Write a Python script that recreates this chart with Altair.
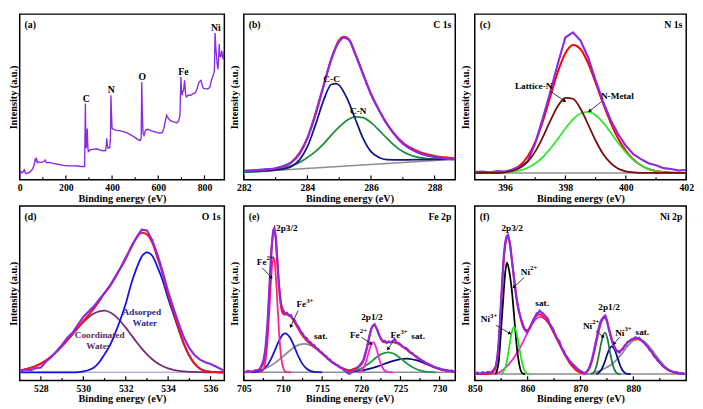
import math
import altair as alt
import pandas as pd

FONT = "Liberation Serif"
PURPLE = "#8A2BE2"
RED = "#FF1010"

# ---------------- (a) survey ----------------
A_DOM = [0, 886]
A_MAJOR = [0, 200, 400, 600, 800]
A_MINOR = [100, 300, 500, 700]
A_SURVEY = [(0, 1.0), (2, 3.5), (5, 5.0), (12, 4.2), (20, 6.0), (25, 4.0), (30, 3.8), (42, 4.5), (50, 5.5),
            (56, 6.5), (63, 9.0), (68, 13.0), (70, 11.0), (73, 12.5), (77, 10.3), (85, 10.8), (95, 10.5),
            (105, 11.0), (110, 12.0), (113, 10.8), (118, 10.3), (130, 10.5), (140, 10.0), (155, 9.6),
            (170, 9.2), (190, 8.7), (210, 8.5), (230, 8.4), (250, 8.3), (265, 8.0), (278, 8.0), (281, 8.2),
            (283, 30), (284.5, 46), (286, 25), (288, 19), (290, 22), (292.5, 31), (295, 20), (297, 17),
            (305, 18), (320, 18.5), (335, 18.7), (350, 17.8), (365, 17.5), (372, 17.6), (375, 21), (377, 25),
            (379, 21), (383, 19), (390, 19.5), (393, 25), (395, 51), (397, 42), (400, 31), (405, 30.5),
            (415, 30), (430, 29.7), (445, 29.2), (460, 28.6), (475, 27.5), (490, 26.3), (505, 25), (515, 24),
            (522, 23.8), (526, 25), (528.5, 59), (531, 40), (534, 28), (538, 26.7), (545, 30), (555, 30.5),
            (570, 29.5), (585, 29), (600, 28.2), (612, 28.4), (618, 28.6), (624, 31), (630, 35), (636, 39),
            (642, 37.5), (650, 36), (660, 35.2), (670, 34.8), (680, 34.3), (688, 35.5), (694, 39), (698, 62),
            (700, 55), (703, 51), (706, 53), (710, 54.5), (714, 60), (718, 52), (722, 50), (730, 51),
            (740, 51), (750, 51.8), (760, 52.4), (768, 55), (774, 58), (780, 59.5), (785, 60), (790, 57),
            (795, 55.2), (802, 55), (810, 54.8), (818, 55.2), (824, 56), (830, 60), (836, 62.5), (840, 64),
            (843, 66), (846, 88.6), (849, 80), (852, 75), (855, 70), (858, 66.7), (861, 72), (864, 81.9),
            (866, 76), (869, 74), (872, 75.5), (875, 78), (878, 74), (881, 73.3), (884, 77), (886, 76)]
A_TEXT = [("C", 288.5, 48.5), ("N", 396, 54.3), ("O", 530.6, 62.1), ("Fe", 709, 65.0), ("Ni", 849, 91.4)]

# ---------------- (b) C 1s ----------------
B_DOM = [282, 288.65]
B_MAJOR = [282, 284, 286, 288]
B_MINOR = [283, 285, 287]
B_BASE = [(282.0, 4.5), (288.65, 12.4)]
B_PURPLE = [(282.0, 5.5), (282.25, 5.7), (282.5, 6.0), (282.75, 6.4), (283.0, 7.0), (283.25, 8.3), (283.5, 10.5),
            (283.75, 15.5), (284.0, 25.0), (284.25, 39.0), (284.5, 56.0), (284.75, 72.5), (285.0, 83.5),
            (285.15, 85.8), (285.3, 84.5), (285.5, 76.0), (285.75, 63.5), (286.0, 51.5), (286.25, 42.0),
            (286.5, 33.5), (286.75, 27.0), (287.0, 21.8), (287.25, 18.5), (287.5, 16.2), (287.75, 14.7),
            (288.0, 13.7), (288.25, 13.0), (288.5, 12.5), (288.65, 12.3)]
B_RED = [(282.0, 5.2), (282.5, 5.8), (283.0, 6.9), (283.5, 10.8), (284.0, 25.5), (284.5, 56.5), (284.75, 73.0),
         (285.0, 84.5), (285.15, 86.3), (285.3, 85.0), (285.5, 76.5), (286.0, 52.0), (286.5, 34.0),
         (287.0, 22.5), (287.5, 17.0), (288.0, 14.4), (288.65, 13.0)]
B_NAVY = [(282.0, 5.0), (282.5, 5.4), (283.0, 6.0), (283.25, 6.6), (283.5, 8.0), (283.75, 12.0), (284.0, 20.0),
          (284.25, 33.0), (284.5, 47.5), (284.75, 57.5), (284.9, 58.0), (285.0, 57.0), (285.25, 49.0),
          (285.5, 37.0), (285.75, 25.0), (286.0, 17.0), (286.25, 13.5), (286.5, 12.2), (287.0, 12.0),
          (287.5, 12.1), (288.0, 12.3), (288.65, 12.4)]
B_GREEN = [(282.0, 4.6), (282.5, 5.0), (283.0, 6.0), (283.5, 8.5), (283.75, 10.5), (284.0, 13.5), (284.25, 17.0),
           (284.5, 21.5), (284.75, 27.0), (285.0, 32.0), (285.25, 36.0), (285.5, 38.0), (285.75, 37.5),
           (286.0, 34.5), (286.25, 30.0), (286.5, 25.0), (286.75, 20.5), (287.0, 17.0), (287.25, 14.8),
           (287.5, 13.5), (287.75, 12.8), (288.0, 12.5), (288.65, 12.4)]
B_TEXT = [("C-C", 284.76, 60.9), ("C-N", 285.6, 41.5)]

# ---------------- (c) N 1s ----------------
C_DOM = [395, 402]
C_MAJOR = [396, 398, 400, 402]
C_MINOR = [397, 399, 401]
C_GRID = [395.0, 395.25, 395.5, 395.75, 396.0, 396.25, 396.5, 396.75, 397.0, 397.25, 397.5, 397.75, 398.0,
          398.25, 398.5, 398.75, 399.0, 399.25, 399.5, 399.75, 400.0, 400.25, 400.5, 400.75, 401.0, 401.25,
          401.5, 401.75, 402.0]
C_MAROON = [4.1, 4.1, 4.1, 4.2, 4.5, 5.4, 7.2, 10.9, 17.0, 25.6, 35.5, 44.5, 49.5, 48.9, 42.9, 33.5, 23.7, 15.5,
            10.0, 6.7, 5.1, 4.5, 4.2, 4.1, 4.1, 4.1, 4.1, 4.1, 4.1]
C_GREEN = [4.1, 4.1, 4.2, 4.3, 4.4, 4.9, 5.7, 7.3, 9.8, 13.6, 18.7, 24.7, 31.0, 36.5, 40.0, 41.0, 38.9, 34.5,
           28.5, 22.2, 16.5, 11.9, 8.7, 6.5, 5.3, 4.65, 4.3, 4.2, 4.1]
C_RED = [4.1, 4.1, 4.1, 4.2, 4.8, 6.2, 8.8, 14.1, 22.7, 35.1, 50.1, 65.1, 76.4, 81.3, 78.8, 70.4, 58.5, 45.9,
         34.4, 24.8, 17.5, 12.3, 8.8, 6.5, 5.3, 4.65, 4.3, 4.2, 4.1]
C_PURPLE = [4.6, 4.9, 4.5, 5.2, 5.0, 6.0, 8.0, 11.0, 22.0, 37.0, 53.0, 70.0, 86.0, 89.0, 84.0, 74.0, 60.0, 47.0,
            36.0, 27.5, 20.5, 15.5, 12.5, 10.0, 8.8, 7.0, 6.5, 5.6, 5.9]
C_TEXT = [("Lattice-N", 396.95, 56.8), ("N-Metal", 399.72, 50.6)]
C_ARROWS = [(397.5, 53.5, 397.98, 47.5), (399.18, 47.0, 398.8, 41.5)]

# ---------------- (d) O 1s ----------------
D_DOM = [527, 536.65]
D_MAJOR = [528, 530, 532, 534, 536]
D_MINOR = [529, 531, 533, 535]
D_GRID = [527.0, 527.25, 527.5, 527.75, 528.0, 528.25, 528.5, 528.75, 529.0, 529.25, 529.5, 529.75, 530.0,
          530.25, 530.5, 530.75, 531.0, 531.25, 531.5, 531.75, 532.0, 532.25, 532.5, 532.75, 533.0, 533.25,
          533.5, 533.75, 534.0, 534.25, 534.5, 534.75, 535.0, 535.25, 535.5, 535.75, 536.0, 536.25, 536.5,
          536.65]
D_COORD = [5.8, 6.4, 7.2, 8.3, 9.7, 11.6, 13.9, 16.6, 19.7, 23.1, 26.7, 30.2, 33.5, 36.3, 38.4, 39.6, 40.0, 39.1,
           37.1, 34.0, 30.3, 26.3, 22.2, 18.4, 15.0, 12.2, 9.9, 8.2, 7.0, 6.1, 5.5, 5.2, 5.0, 4.9, 4.8, 4.7,
           4.7, 4.7, 4.7, 4.7]
D_ADS = [4.7, 4.7, 4.7, 4.7, 4.7, 4.7, 4.7, 4.7, 4.7, 4.7, 4.7, 4.8, 5.2, 6.0, 7.5, 10.5, 15.0, 20.0, 27.0, 35.0,
         44.0, 55.0, 64.0, 71.0, 73.5, 71.5, 65.0, 57.0, 47.0, 38.0, 29.0, 20.5, 14.0, 9.5, 6.8, 5.5, 5.0, 4.8,
         4.7, 4.7]
D_RED = [5.8, 6.4, 7.2, 8.3, 9.7, 11.6, 13.9, 16.6, 19.7, 23.1, 26.7, 30.3, 34.0, 37.6, 41.2, 45.4, 50.3, 54.4,
         59.4, 64.3, 69.6, 76.6, 81.5, 84.7, 83.8, 79.0, 70.2, 60.5, 49.3, 39.4, 29.8, 21.0, 14.3, 9.7, 6.9,
         5.5, 5.0, 4.8, 4.7, 4.7]
D_PURPLE = [5.0, 6.3, 5.8, 7.0, 7.5, 11.0, 13.5, 17.0, 20.5, 24.5, 27.5, 32.0, 36.5, 39.5, 42.5, 46.5, 50.0,
            54.0, 59.0, 64.5, 70.5, 76.0, 82.0, 86.5, 86.0, 80.5, 72.0, 62.0, 51.0, 41.5, 32.5, 24.5, 18.5,
            14.5, 12.0, 10.5, 9.5, 8.0, 6.5, 5.5]
D_TEXT_ADS = [("Adsorped", 532.76, 39.5), ("Water", 532.9, 32.8)]
D_TEXT_COORD = [("Coordinated", 530.77, 26.1), ("Water", 530.72, 19.9)]

# ---------------- (e) Fe 2p ----------------
E_DOM = [705, 732]
E_MAJOR = [705, 710, 715, 720, 725, 730]
E_MINOR = [707.5, 712.5, 717.5, 722.5, 727.5]
E_BASE = [(705.5, 4.7), (732.0, 4.7)]
E_PINK = [(707.0, 4.7), (707.25, 5.1), (707.5, 6.4), (707.75, 10.7), (708.0, 21.2), (708.25, 38.9), (708.5, 59.0),
          (708.8, 70.7), (709.0, 65.2), (709.25, 47.2), (709.5, 27.5), (709.75, 14.0), (710.0, 7.6),
          (710.25, 5.4), (710.5, 4.8), (711.0, 4.7)]
E_BLUE = [(706.0, 4.7), (706.5, 4.9), (707.0, 5.4), (707.5, 6.5), (708.0, 8.8), (708.5, 12.6), (709.0, 17.7),
          (709.5, 22.9), (710.0, 26.4), (710.3, 27.0), (710.5, 26.7), (711.0, 23.8), (711.5, 18.8), (712.0, 13.5),
          (712.5, 9.4), (713.0, 6.9), (713.5, 5.5), (714.0, 5.0), (714.5, 4.8), (715.0, 4.7)]
E_SAT1 = [(706.0, 5.15), (707.0, 5.9), (708.0, 7.5), (709.0, 10.1), (710.0, 13.8), (711.0, 17.6), (712.0, 20.4),
          (712.7, 21.0), (713.5, 20.2), (714.5, 17.3), (715.5, 13.4), (716.5, 9.8), (717.5, 7.3), (718.5, 5.8),
          (719.5, 5.1), (720.5, 4.8)]
E_MAG = [(719.5, 4.8), (720.0, 5.6), (720.25, 7.0), (720.5, 9.4), (720.75, 13.0), (721.0, 17.2), (721.25, 20.6),
         (721.5, 22.0), (721.75, 20.6), (722.0, 17.2), (722.25, 13.0), (722.5, 9.4), (722.75, 7.0), (723.0, 5.6),
         (723.5, 4.8), (724.0, 4.7)]
E_GREEN = [(718.0, 4.9), (718.5, 5.1), (719.0, 5.5), (719.5, 6.1), (720.0, 7.0), (720.5, 8.3), (721.0, 9.9),
           (721.5, 11.7), (722.0, 13.5), (722.5, 15.0), (723.0, 15.9), (723.4, 16.2), (724.0, 15.6), (724.5, 14.4),
           (725.0, 12.8), (725.5, 10.9), (726.0, 9.2), (726.5, 7.7), (727.0, 6.6), (727.5, 5.8), (728.0, 5.3),
           (728.5, 5.0), (729.0, 4.8), (729.5, 4.7)]
E_NAVY = [(718.0, 4.9), (719.0, 5.2), (720.0, 5.75), (721.0, 6.7), (722.0, 8.0), (723.0, 9.6), (724.0, 11.1),
          (725.0, 12.2), (725.8, 12.5), (726.5, 12.2), (727.0, 11.65), (727.5, 10.9), (728.0, 10.0), (728.5, 9.1),
          (729.0, 8.1), (729.5, 7.3), (730.0, 6.6), (730.5, 6.0), (731.0, 5.6), (731.5, 5.3), (732.0, 5.1)]
E_RED = [(705.0, 4.7), (706.0, 5.15), (706.5, 5.65), (707.0, 6.6), (707.25, 7.8), (707.5, 10.1), (707.75, 15.8),
         (708.0, 28.1), (708.25, 48.0), (708.5, 70.9), (708.75, 85.4), (709.0, 83.6), (709.25, 69.2), (709.5, 52.9),
         (709.75, 42.3), (710.0, 38.4), (710.25, 37.8), (710.5, 37.9), (711.0, 36.7), (711.5, 33.3), (712.0, 29.2),
         (712.5, 25.65), (713.0, 23.1), (713.5, 21.0), (714.0, 19.2), (714.5, 17.4), (715.0, 15.4), (715.5, 13.4),
         (716.0, 11.5), (716.5, 9.8), (717.0, 8.4), (717.5, 7.3), (718.0, 6.4), (718.5, 5.8), (719.0, 6.7),
         (719.5, 7.35), (720.0, 9.2), (720.25, 11.3), (720.5, 14.7), (720.75, 19.15), (721.0, 24.4),
         (721.25, 29.1), (721.5, 31.6), (721.75, 31.45), (722.0, 29.3), (722.25, 26.3), (722.5, 23.8),
         (722.75, 22.3), (723.0, 21.9), (723.5, 22.0), (724.0, 22.0), (724.5, 21.4), (725.0, 20.3), (725.5, 18.65),
         (726.0, 17.0), (726.5, 15.2), (727.0, 13.55), (727.5, 12.0), (728.0, 10.6), (728.5, 9.4), (729.0, 8.2),
         (729.5, 7.3), (730.0, 6.6), (730.5, 6.0), (731.0, 5.6), (731.5, 5.3), (732.0, 5.1)]
E_PURPLE = [(705.0, 4.5), (705.5, 5.5), (706.0, 4.8), (706.5, 5.8), (707.0, 6.2), (707.25, 8.5), (707.5, 11.5),
            (707.75, 18.0), (708.0, 31.0), (708.25, 52.0), (708.5, 74.0), (708.75, 86.0), (708.9, 87.5),
            (709.1, 82.0), (709.3, 68.0), (709.5, 54.5), (709.75, 44.0), (710.0, 40.5), (710.25, 38.5),
            (710.5, 38.8), (710.75, 37.2), (711.0, 37.5), (711.25, 35.5), (711.5, 34.5), (711.75, 32.0),
            (712.0, 30.5), (712.25, 28.2), (712.5, 27.0), (712.75, 25.0), (713.0, 24.5), (713.25, 22.5),
            (713.5, 22.0), (713.75, 20.5), (714.0, 20.3), (714.25, 18.5), (714.5, 18.0), (714.75, 16.5),
            (715.0, 16.0), (715.25, 14.5), (715.5, 14.0), (715.75, 12.5), (716.0, 12.0), (716.25, 10.5),
            (716.5, 10.2), (716.75, 9.0), (717.0, 8.8), (717.25, 7.5), (717.5, 7.2), (717.75, 6.0), (718.0, 5.5),
            (718.25, 4.2), (718.5, 3.8), (718.75, 4.8), (719.0, 5.5), (719.25, 6.0), (719.5, 7.5), (719.75, 8.5),
            (720.0, 10.0), (720.25, 11.5), (720.5, 15.5), (720.75, 19.5), (721.0, 25.0), (721.25, 29.5),
            (721.5, 31.5), (721.7, 32.3), (722.0, 29.5), (722.25, 26.5), (722.5, 24.0), (722.75, 22.5),
            (723.0, 22.8), (723.25, 21.5), (723.5, 22.5), (723.75, 21.8), (724.0, 22.5), (724.25, 24.0),
            (724.5, 21.8), (724.75, 21.5), (725.0, 20.8), (725.25, 19.5), (725.5, 19.0), (725.75, 18.5),
            (726.0, 17.5), (726.25, 16.0), (726.5, 15.8), (726.75, 14.5), (727.0, 14.0), (727.25, 13.0),
            (727.5, 12.3), (727.75, 11.5), (728.0, 11.0), (728.25, 10.0), (728.5, 9.8), (728.75, 9.0),
            (729.0, 8.6), (729.25, 7.8), (729.5, 7.6), (729.75, 7.0), (730.0, 7.0), (730.25, 6.2), (730.5, 6.4),
            (730.75, 5.8), (731.0, 6.0), (731.25, 5.5), (731.5, 5.8), (731.75, 5.2), (732.0, 5.5)]
E_TEXT = [("2p3/2", 710.5, 87.5), ("sat.", 714.83, 25.4), ("2p1/2", 721.36, 36.5), ("sat.", 727.26, 25.4)]
E_ION = [("Fe", "2+", 707.9, 68.0), ("Fe", "3+", 712.96, 43.6), ("Fe", "2+", 719.8, 25.9), ("Fe", "3+", 724.99, 25.8)]
E_ARROWS = [(707.36, 64.6, 708.52, 59.0), (711.93, 40.1, 711.0, 31.0), (720.01, 24.8, 721.26, 21.1),
            (724.07, 22.3, 723.41, 18.1)]

# ---------------- (f) Ni 2p ----------------
F_DOM = [850, 890]
F_MAJOR = [850, 860, 870, 880]
F_MINOR = [855, 865, 875, 885]
F_BASE = [(851.0, 3.7), (890.0, 3.7)]
F_BLACK = [(853.9, 3.7), (854.5, 10.0), (855.0, 30.0), (855.5, 52.0), (855.8, 63.0), (856.1, 67.6), (856.5, 63.0),
           (857.0, 52.0), (857.5, 35.0), (858.0, 18.0), (858.5, 8.0), (859.0, 4.2), (859.5, 3.7)]
F_GREEN = [(855.0, 3.7), (855.5, 5.5), (856.0, 10.0), (856.5, 19.0), (857.0, 27.5), (857.4, 30.7), (857.8, 28.5),
           (858.3, 21.0), (858.8, 12.5), (859.3, 6.5), (859.8, 4.2), (860.3, 3.7)]
F_MAG = [(853.5, 3.7), (854.5, 4.5), (855.5, 6.5), (856.5, 9.5), (857.5, 13.5), (858.5, 18.5), (859.5, 24.5),
         (860.5, 30.5), (861.5, 35.0), (862.3, 36.5), (863.0, 35.8), (863.5, 34.5), (864.0, 32.5), (864.5, 30.0),
         (865.0, 27.0), (865.5, 24.0), (866.0, 21.0), (866.5, 18.0), (867.0, 15.0), (867.5, 12.3), (868.0, 10.0),
         (868.5, 8.0), (869.0, 6.5), (869.5, 5.3), (870.0, 4.5), (870.5, 4.0), (871.0, 3.7)]
F_DKGREEN = [(872.0, 3.7), (872.5, 4.5), (873.0, 8.0), (873.5, 15.0), (874.0, 22.5), (874.6, 27.4), (875.1, 24.0),
             (875.6, 16.0), (876.1, 9.0), (876.6, 5.2), (877.1, 3.9), (877.6, 3.7)]
F_NAVY = [(873.0, 3.7), (873.5, 4.5), (874.0, 6.5), (874.5, 10.0), (875.0, 14.5), (875.5, 18.3), (875.9, 19.6),
          (876.4, 18.0), (876.9, 14.0), (877.4, 9.5), (877.9, 6.0), (878.4, 4.4), (878.9, 3.8), (879.5, 3.7)]
F_SAT2 = [(871.0, 3.7), (872.0, 4.0), (873.0, 4.8), (874.0, 6.0), (875.0, 7.6), (876.0, 9.5), (877.0, 12.5),
          (878.0, 16.0), (879.0, 20.0), (880.0, 22.8), (881.0, 23.6), (882.0, 22.5), (883.0, 19.5), (884.0, 15.5),
          (885.0, 11.5), (886.0, 8.0), (887.0, 5.8), (888.0, 4.5), (889.0, 3.9), (890.0, 3.7)]
F_RED = [(850.0, 3.7), (852.0, 3.7), (853.0, 4.0), (853.5, 5.0), (854.0, 8.0), (854.5, 20.0), (855.0, 45.0),
         (855.5, 70.0), (856.0, 81.0), (856.3, 82.5), (856.7, 78.0), (857.1, 67.0), (857.5, 57.0), (858.0, 46.0),
         (858.5, 38.0), (859.0, 32.0), (859.5, 29.0), (860.0, 29.0), (860.5, 31.0), (861.0, 34.0), (861.5, 36.5),
         (862.0, 37.8), (862.5, 37.8), (863.0, 36.5), (863.5, 35.0), (864.0, 33.0), (864.5, 30.0), (865.0, 27.0),
         (865.5, 24.0), (866.0, 21.0), (866.5, 18.0), (867.0, 15.0), (867.5, 12.5), (868.0, 10.0), (868.5, 8.2),
         (869.0, 6.5), (869.5, 5.3), (870.0, 4.6), (870.5, 4.3), (871.0, 4.5), (871.5, 6.0), (872.0, 9.5),
         (872.5, 15.0), (873.0, 22.0), (873.5, 29.0), (874.0, 34.0), (874.5, 36.0), (875.0, 34.0), (875.5, 28.5),
         (876.0, 23.0), (876.5, 19.0), (877.0, 17.0), (877.5, 17.0), (878.0, 18.5), (878.5, 20.5), (879.0, 22.0),
         (879.5, 23.2), (880.0, 23.8), (880.5, 24.0), (881.0, 23.8), (881.5, 23.0), (882.0, 21.8), (882.5, 20.0),
         (883.0, 18.0), (883.5, 16.0), (884.0, 14.0), (884.5, 12.0), (885.0, 10.2), (885.5, 8.6), (886.0, 7.2),
         (886.5, 6.2), (887.0, 5.4), (887.5, 4.8), (888.0, 4.4), (888.5, 4.0), (889.0, 3.8), (890.0, 3.7)]
F_PURPLE = [(850.0, 3.8), (850.5, 4.6), (851.0, 3.9), (851.5, 4.8), (852.0, 4.2), (852.5, 5.0), (853.0, 4.6),
            (853.5, 5.8), (854.0, 8.5), (854.25, 13), (854.5, 21), (854.75, 33), (855.0, 47), (855.25, 60),
            (855.5, 72), (855.75, 79), (856.0, 82.5), (856.3, 83.5), (856.6, 79), (856.9, 72), (857.1, 67),
            (857.4, 59), (857.7, 51), (858.0, 45), (858.3, 40), (858.6, 37), (859.0, 33), (859.3, 30.5),
            (859.6, 28.5), (859.9, 27.5), (860.2, 29.0), (860.5, 30.5), (860.8, 33.0), (861.1, 35.0), (861.4, 36.5),
            (861.7, 38.5), (862.0, 38.8), (862.3, 40.0), (862.6, 39.0), (862.9, 38.5), (863.2, 37.5), (863.5, 36.5),
            (863.8, 35.5), (864.1, 33.0), (864.4, 31.5), (864.8, 29.5), (865.2, 26.5), (865.6, 24.0), (866.0, 22.5),
            (866.4, 19.0), (866.8, 17.0), (867.2, 14.5), (867.6, 12.8), (868.0, 11.0), (868.5, 9.5), (869.0, 8.0),
            (869.5, 6.5), (870.0, 5.5), (870.5, 4.6), (870.9, 4.3), (871.3, 5.5), (871.6, 7.0), (871.9, 9.5),
            (872.2, 12.5), (872.5, 16.5), (872.8, 21.0), (873.1, 25.0), (873.4, 29.5), (873.7, 33.0), (874.0, 35.0),
            (874.4, 36.5), (874.7, 37.2), (875.0, 34.5), (875.3, 30.0), (875.6, 26.5), (875.9, 23.0), (876.2, 20.5),
            (876.5, 18.5), (876.8, 17.0), (877.1, 16.5), (877.4, 16.0), (877.7, 17.5), (878.0, 18.0), (878.3, 19.5),
            (878.6, 20.5), (878.9, 22.0), (879.2, 22.5), (879.6, 23.5), (880.0, 24.0), (880.4, 24.8), (880.8, 24.2),
            (881.1, 24.5), (881.5, 23.0), (881.9, 22.0), (882.3, 20.5), (882.7, 19.5), (883.1, 17.5), (883.5, 16.5),
            (883.9, 14.0), (884.3, 12.8), (884.7, 11.0), (885.1, 10.2), (885.5, 8.5), (885.9, 7.5), (886.3, 6.8),
            (886.7, 5.8), (887.2, 5.5), (887.7, 4.6), (888.2, 4.8), (888.7, 4.0), (889.2, 4.2), (889.7, 3.8),
            (890.0, 4.0)]
F_TEXT = [("2p3/2", 857.08, 87.5), ("sat.", 862.75, 44.5), ("2p1/2", 875.4, 42.3), ("sat.", 881.7, 27.9)]
F_ION = [("Ni", "2+", 860.47, 62.0), ("Ni", "3+", 852.9, 35.0), ("Ni", "2+", 872.2, 31.1), ("Ni", "3+", 878.3, 27.4)]
F_ARROWS = [(859.37, 59.1, 857.39, 53.5), (854.0, 31.7, 856.65, 27.0), (872.9, 28.5, 874.3, 25.1),
            (877.4, 24.8, 876.3, 21.1)]

# ---------------- layout ----------------
COL_W = [210, 217, 217]
ROW_H = [170, 179]
COL_GAP = 20
ROW_GAP = 0

YSC = alt.Scale(domain=[0, 100], nice=False, zero=False)


class Panel:
    def __init__(self, dom, W, H, major, ypad):
        self.dom, self.W, self.H, self.major = dom, W, H, major
        self.xs = alt.Scale(domain=dom, nice=False, zero=False)
        self.xax = alt.Axis(values=major, title="Binding energy (eV)", format="d", ticks=False, domain=False,
                            grid=False)
        self.yax = alt.Axis(title="Intensity (a.u.)", labels=False, ticks=False, domain=False, grid=False,
                            titlePadding=ypad)

    def X(self, f):
        return alt.X(f, scale=self.xs, axis=self.xax)

    def Y(self, f):
        return alt.Y(f, scale=YSC, axis=self.yax)

    def curve(self, pts, color, width=1.8, interp="monotone"):
        df = pd.DataFrame(pts, columns=["x", "y"])
        return alt.Chart(df).mark_line(color=color, strokeWidth=width, clip=True, interpolate=interp).encode(
            x=self.X("x:Q"), y=self.Y("y:Q"))

    def grid(self, xs, ys, color, width=1.8, interp="monotone"):
        return self.curve(list(zip(xs, ys)), color, width, interp)

    def ticks(self, minor):
        H = self.H
        m = alt.Chart(pd.DataFrame({"x": self.major})).mark_rule(color="black", strokeWidth=1.2).encode(
            x=self.X("x:Q"), y=alt.value(H), y2=alt.value(H - 4.5))
        n = alt.Chart(pd.DataFrame({"x": minor})).mark_rule(color="black", strokeWidth=1.2).encode(
            x=self.X("x:Q"), y=alt.value(H), y2=alt.value(H - 2.5))
        return [m, n]

    def texts(self, rows, size=9.5, color="black", align="center", dy=0):
        df = pd.DataFrame(rows, columns=["t", "x", "y"])
        return alt.Chart(df).mark_text(font=FONT, fontWeight="bold", fontSize=size, color=color, align=align,
                                       baseline="middle", dy=dy).encode(
            x=self.X("x:Q"), y=self.Y("y:Q"), text="t:N")

    def ions(self, rows):
        base = [(r[0], r[2], r[3]) for r in rows]
        sup = [(r[1], r[2], r[3]) for r in rows]
        return [self.texts(base, 9.5, align="right"), self.texts(sup, 7, align="left", dy=-4)]

    def arrows(self, rows):
        sx = self.W / (self.dom[1] - self.dom[0])
        sy = self.H / 100.0
        df = pd.DataFrame(rows, columns=["x", "y", "x2", "y2"])
        df["ang"] = [math.degrees(math.atan2((r[2] - r[0]) * sx, (r[3] - r[1]) * sy)) % 360 for r in rows]
        line = alt.Chart(df).mark_rule(color="#202020", strokeWidth=0.9).encode(
            x=self.X("x:Q"), y=self.Y("y:Q"), x2="x2:Q", y2="y2:Q")
        head = alt.Chart(df).mark_point(shape="triangle-up", filled=True, size=16, color="black",
                                        opacity=1).encode(
            x=self.X("x2:Q"), y=self.Y("y2:Q"), angle=alt.Angle("ang:Q", scale=None))
        return [line, head]

    def corner(self, left, right):
        df = pd.DataFrame({"t": [left], "u": [right]})
        l = alt.Chart(df).mark_text(font=FONT, fontWeight="bold", fontSize=10, align="left",
                                    baseline="middle", color="black").encode(
            x=alt.value(5), y=alt.value(11), text="t:N")
        r = alt.Chart(df).mark_text(font=FONT, fontWeight="bold", fontSize=10, align="right",
                                    baseline="middle", color="black").encode(
            x=alt.value(self.W - 4), y=alt.value(11), text="u:N")
        return [l, r]


# (a)
P = Panel(A_DOM, COL_W[0], ROW_H[0], A_MAJOR, 1)
pa = alt.layer(
    P.curve(A_SURVEY, PURPLE, 1.4, "linear"),
    *P.ticks(A_MINOR),
    P.texts(A_TEXT, 10),
    *P.corner("(a)", ""),
).properties(width=P.W, height=P.H)

# (b)
P = Panel(B_DOM, COL_W[1], ROW_H[0], B_MAJOR, 4)
pb = alt.layer(
    P.curve(B_BASE, "#8C8C8C", 1.6, "linear"),
    P.curve(B_GREEN, "#1E8C3C"),
    P.curve(B_NAVY, "#14148C"),
    P.curve(B_RED, RED, 2.0),
    P.curve(B_PURPLE, PURPLE, 2.2),
    *P.ticks(B_MINOR),
    P.texts(B_TEXT),
    *P.corner("(b)", "C 1s"),
).properties(width=P.W, height=P.H)

# (c)
P = Panel(C_DOM, COL_W[2], ROW_H[0], C_MAJOR, 4)
pc = alt.layer(
    P.curve([(C_DOM[0], 4.1), (C_DOM[1], 4.1)], "#909090", 1.6, "linear"),
    P.grid(C_GRID, C_RED, "#FF0000", 2.0),
    P.grid(C_GRID, C_PURPLE, PURPLE, 2.2, "linear"),
    P.grid(C_GRID, C_GREEN, "#2EE62E"),
    P.grid(C_GRID, C_MAROON, "#7A0A0A"),
    *P.ticks(C_MINOR),
    P.texts(C_TEXT),
    *P.arrows(C_ARROWS),
    *P.corner("(c)", "N 1s"),
).properties(width=P.W, height=P.H)

# (d)
P = Panel(D_DOM, COL_W[0], ROW_H[1], D_MAJOR, 1)
pd_ = alt.layer(
    P.curve([(D_DOM[0], 4.7), (D_DOM[1], 4.7)], "#B4B4DC", 1.6, "linear"),
    P.grid(D_GRID, D_COORD, "#7A2A78"),
    P.grid(D_GRID, D_ADS, "#1010F0"),
    P.grid(D_GRID, D_RED, RED, 2.0),
    P.grid(D_GRID, D_PURPLE, PURPLE, 2.2, "linear"),
    *P.ticks(D_MINOR),
    P.texts(D_TEXT_ADS, 9.5, "#2A2A8A"),
    P.texts(D_TEXT_COORD, 9.5, "#5E2A5E"),
    *P.corner("(d)", "O 1s"),
).properties(width=P.W, height=P.H)

# (e)
P = Panel(E_DOM, COL_W[1], ROW_H[1], E_MAJOR, 4)
pe = alt.layer(
    P.curve(E_BASE, "#8C8C9A", 1.6, "linear"),
    P.curve(E_SAT1, "#8C8C9A"),
    P.curve(E_BLUE, "#1414D2"),
    P.curve(E_NAVY, "#0A0A82"),
    P.curve(E_GREEN, "#1E963C"),
    P.curve(E_MAG, "#FF22DD"),
    P.curve(E_PINK, "#FF2080"),
    P.curve(E_RED, RED, 2.0),
    P.curve(E_PURPLE, PURPLE, 2.2, "linear"),
    *P.ticks(E_MINOR),
    P.texts(E_TEXT),
    *P.ions(E_ION),
    *P.arrows(E_ARROWS),
    *P.corner("(e)", "Fe 2p"),
).properties(width=P.W, height=P.H)

# (f)
P = Panel(F_DOM, COL_W[2], ROW_H[1], F_MAJOR, 4)
pf = alt.layer(
    P.curve(F_BASE, "#8C8C8C", 1.6, "linear"),
    P.curve(F_SAT2, "#8C8C8C"),
    P.curve(F_MAG, "#FF1EC8"),
    P.curve(F_RED, RED, 2.0),
    P.curve(F_BLACK, "#000000"),
    P.curve(F_GREEN, "#1EE61E"),
    P.curve(F_NAVY, "#0A0A8C"),
    P.curve(F_DKGREEN, "#1E7A3C"),
    P.curve(F_PURPLE, PURPLE, 2.2, "linear"),
    *P.ticks(F_MINOR),
    P.texts(F_TEXT),
    *P.ions(F_ION),
    *P.arrows(F_ARROWS),
    *P.corner("(f)", "Ni 2p"),
).properties(width=P.W, height=P.H)

row1 = alt.hconcat(pa, pb, pc, spacing=COL_GAP, bounds="flush")
row2 = alt.hconcat(pd_, pe, pf, spacing=COL_GAP, bounds="flush")

chart = alt.vconcat(row1, row2, spacing=ROW_GAP, bounds="full").properties(padding=0).configure_view(
    stroke="black", strokeWidth=1.5
).configure_axis(
    labelFont=FONT, labelFontWeight="bold", labelFontSize=10, labelColor="black",
    titleFont=FONT, titleFontWeight="bold", titleFontSize=10.5, titleColor="black",
    labelPadding=3, titlePadding=1, grid=False, domain=False, ticks=False, tickSize=0,
    labelFlush=False, labelOverlap=False
)

chart.save("out.html", embed_options={"renderer": "svg", "actions": False})
